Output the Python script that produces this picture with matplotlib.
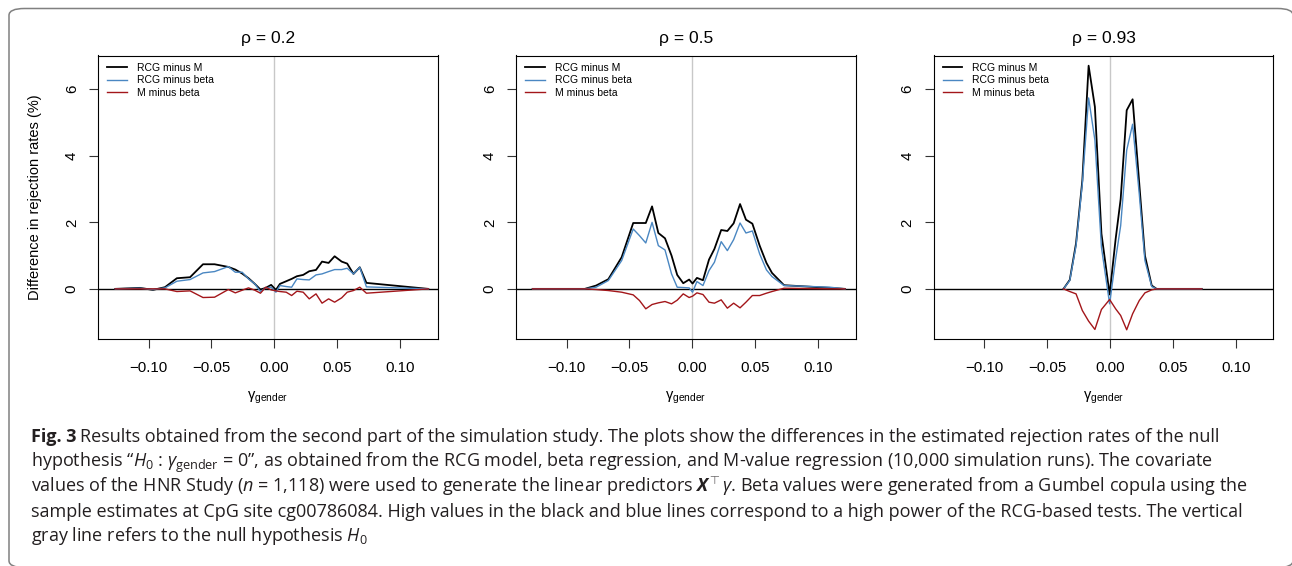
import matplotlib
matplotlib.use("Agg")
import matplotlib.pyplot as plt
from matplotlib.patches import FancyBboxPatch
from matplotlib import font_manager as fm

# ---------------- data ----------------
x_p1 = [-0.1265, -0.107, -0.0965, -0.087, -0.0775, -0.067, -0.0567, -0.0475, -0.0366, -0.031,
        -0.0255, -0.0205, -0.0155, -0.011, -0.0068, -0.0025, 0.0013, 0.0045, 0.0095, 0.0138,
        0.018, 0.023, 0.0278, 0.0332, 0.038, 0.0432, 0.048, 0.0536, 0.058, 0.063, 0.068, 0.0733, 0.1225]
rcg_m_p1 = [0, 0.03, -0.03, 0.05, 0.32, 0.35, 0.74, 0.74, 0.66, 0.58,
            0.46, 0.32, 0.15, -0.02, 0.03, 0.12, -0.03, 0.15, 0.23, 0.30,
            0.38, 0.42, 0.53, 0.57, 0.82, 0.78, 0.98, 0.82, 0.76, 0.45, 0.65, 0.18, 0.0]
rcg_b_p1 = [0, 0.02, -0.02, 0.03, 0.23, 0.28, 0.48, 0.52, 0.67, 0.50,
            0.50, 0.30, 0.15, -0.08, 0.03, 0.05, -0.10, 0.10, 0.07, 0.05,
            0.30, 0.28, 0.27, 0.42, 0.45, 0.52, 0.58, 0.58, 0.62, 0.45, 0.65, 0.06, 0.0]
m_b_p1 = [0, 0.0, 0.0, 0.0, -0.08, -0.06, -0.26, -0.25, -0.02, -0.12,
          -0.04, 0.03, -0.04, -0.13, 0.05, -0.03, -0.06, -0.08, -0.10, -0.20,
          -0.07, -0.10, -0.30, -0.15, -0.43, -0.30, -0.40, -0.27, -0.10, -0.05, 0.05, -0.13, 0.0]

x_p2 = [-0.127, -0.1, -0.0855, -0.0765, -0.0668, -0.0562, -0.047, -0.042, -0.037, -0.032,
        -0.027, -0.0217, -0.0165, -0.012, -0.0072, -0.0025, 0.0002, 0.0037, 0.0085, 0.0133,
        0.0176, 0.023, 0.0279, 0.0329, 0.038, 0.0427, 0.0478, 0.0536, 0.059, 0.0634, 0.073, 0.1095, 0.1215]
rcg_m_p2 = [0, 0, 0, 0.10, 0.29, 0.95, 1.98, 1.98, 1.98, 2.48,
            1.68, 1.52, 1.00, 0.42, 0.17, 0.28, 0.16, 0.33, 0.26, 0.88,
            1.20, 1.77, 1.74, 1.97, 2.55, 2.08, 1.96, 1.30, 0.78, 0.48, 0.11, 0.03, 0.0]
rcg_b_p2 = [0, 0, 0, 0.05, 0.25, 0.85, 1.80, 1.60, 1.38, 2.00,
            1.30, 1.17, 0.45, 0.05, 0.04, 0.03, -0.10, 0.22, 0.10, 0.55,
            0.80, 1.42, 1.15, 1.48, 1.98, 1.68, 1.74, 1.05, 0.57, 0.37, 0.10, 0.05, 0.0]
m_b_p2 = [0, 0, 0, -0.02, -0.05, -0.10, -0.18, -0.35, -0.60, -0.47,
          -0.42, -0.38, -0.45, -0.34, -0.15, -0.26, -0.22, -0.12, -0.17, -0.40,
          -0.43, -0.33, -0.58, -0.43, -0.57, -0.40, -0.20, -0.20, -0.13, -0.08, 0.02, 0.0, 0.0]

x_p3 = [-0.037, -0.032, -0.027, -0.022, -0.017, -0.012, -0.0068, -0.0003, 0.0045, 0.0085,
        0.0133, 0.018, 0.0233, 0.0278, 0.0332, 0.0371, 0.05, 0.073]
rcg_m_p3 = [0, 0.27, 1.37, 3.26, 6.71, 5.47, 1.66, -0.17, 1.50, 2.70,
            5.37, 5.70, 3.16, 1.00, 0.10, 0.0, 0.0, 0.0]
rcg_b_p3 = [0, 0.25, 1.30, 3.16, 5.74, 4.47, 1.25, -0.45, 0.90, 1.90,
            4.17, 4.95, 2.85, 0.85, 0.07, 0.0, 0.0, 0.0]
m_b_p3 = [0, -0.08, -0.15, -0.65, -0.97, -1.22, -0.62, -0.32, -0.60, -0.80,
          -1.23, -0.75, -0.35, -0.12, -0.03, 0.0, 0.0, 0.0]

titles = ["ρ = 0.2", "ρ = 0.5", "ρ = 0.93"]
series_labels = ["RCG minus M", "RCG minus beta", "M minus beta"]
xtick_vals = [-0.10, -0.05, 0.00, 0.05, 0.10]
xtick_labels = ["\u22120.10", "\u22120.05", "0.00", "0.05", "0.10"]
ytick_vals = [0, 2, 4, 6]
ytick_labels = ["0", "2", "4", "6"]
ylabel = "Difference in rejection rates (%)"

panels = [
    (x_p1, rcg_m_p1, rcg_b_p1, m_b_p1),
    (x_p2, rcg_m_p2, rcg_b_p2, m_b_p2),
    (x_p3, rcg_m_p3, rcg_b_p3, m_b_p3),
]

caption_head = "Fig. 3"
caption_lines = [
    r"Results obtained from the second part of the simulation study. The plots show the differences in the estimated rejection rates of the null",
    r"hypothesis “$H_0$ : $\gamma_{\mathrm{gender}}$ = 0”, as obtained from the RCG model, beta regression, and M-value regression (10,000 simulation runs). The covariate",
    r"values of the HNR Study ($n$ = 1,118) were used to generate the linear predictors $\mathbfit{X}^{\top}\gamma$. Beta values were generated from a Gumbel copula using the",
    r"sample estimates at CpG site cg00786084. High values in the black and blue lines correspond to a high power of the RCG-based tests. The vertical",
    r"gray line refers to the null hypothesis $H_0$",
]

# ---------------- style ----------------
names = {f.name for f in fm.fontManager.ttflist}
cap_font = "Liberation Sans Narrow" if "Liberation Sans Narrow" in names else "Open Sans"
plt.rcParams["font.family"] = ["Liberation Sans", "DejaVu Sans"]
plt.rcParams["mathtext.fontset"] = "custom"
plt.rcParams["mathtext.rm"] = cap_font
plt.rcParams["mathtext.it"] = cap_font + ":italic"
plt.rcParams["mathtext.bf"] = cap_font + ":bold"
try:
    plt.rcParams["mathtext.bfit"] = cap_font + ":italic:bold"
except KeyError:
    pass

C_BLACK = "#000000"
C_BLUE = "#4A87C2"
C_RED = "#A3161A"

W, H = 1292, 566
fig = plt.figure(figsize=(W / 100, H / 100), dpi=100)

ax_lefts = [98.3, 516.3, 934.0]
ax_w = 339.4
ax_top, ax_bot = 55.5, 339.3

for i, (xs, a, b, c) in enumerate(panels):
    l = ax_lefts[i]
    ax = fig.add_axes([l / W, 1 - ax_bot / H, ax_w / W, (ax_bot - ax_top) / H])
    ax.axvline(0, color="#C8C8C8", lw=1.0, zorder=1)
    ax.plot(xs, a, color=C_BLACK, lw=1.3, zorder=3, label=series_labels[0])
    ax.plot(xs, b, color=C_BLUE, lw=1.0, zorder=4, label=series_labels[1])
    ax.plot(xs, c, color=C_RED, lw=1.0, zorder=4, label=series_labels[2])
    ax.axhline(0, color="black", lw=1.0, zorder=2)
    ax.set_xlim(-0.14, 0.13)
    ax.set_ylim(-1.516, 7.016)
    ax.set_xticks(xtick_vals)
    ax.set_xticklabels(xtick_labels)
    ax.set_yticks(ytick_vals)
    ax.set_yticklabels(ytick_labels, rotation=90, va="center")
    ax.tick_params(axis="both", direction="out", length=6.5, width=0.8,
                   labelsize=10.8, color="#333333")
    ax.tick_params(axis="x", pad=9.0)
    ax.tick_params(axis="y", pad=7.5)
    for s in ax.spines.values():
        s.set_linewidth(0.8)
    ax.set_title(titles[i], fontsize=12.5, pad=9.0)
    ax.text(0.5, (ax_bot - 400) / (ax_bot - ax_top), "γ$_{\\mathregular{gender}}$",
            transform=ax.transAxes, ha="center", va="baseline", fontsize=10.5)
    ax.legend(loc="upper left", bbox_to_anchor=(8.7 / ax_w, 1 - 7.5 / (ax_bot - ax_top)),
              frameon=False, fontsize=7.5, handlelength=1.9, handletextpad=0.95,
              labelspacing=0.22, borderpad=0, borderaxespad=0)

fig.text(35 / W, 1 - ((ax_top + ax_bot) / 2) / H, ylabel, rotation=90,
         ha="center", va="center", fontsize=10.5)

# caption
cap_kw = dict(ha="left", va="baseline", fontsize=13.0,
              family=[cap_font, "DejaVu Sans"], color="#231F20")
cap_y = [442, 467, 492, 517, 541]
renderer = fig.canvas.get_renderer()
head = fig.text(31 / W, 1 - cap_y[0] / H, caption_head, fontweight="bold", **cap_kw)
hx = head.get_window_extent(renderer).x1
for k, (line, y) in enumerate(zip(caption_lines, cap_y)):
    x0 = (hx + 4.0) if k == 0 else 31
    fig.text(x0 / W, 1 - y / H, line, **cap_kw)

# frame (right and bottom edges fall just outside the image)
frame = FancyBboxPatch((9 / W, 1 - 567.5 / H), (1293 - 9) / W, (567.5 - 8.5) / H,
                       boxstyle="round,pad=0,rounding_size=0.012",
                       transform=fig.transFigure, fill=False,
                       edgecolor="#808080", lw=1.1)
fig.patches.append(frame)

fig.savefig("out.png", dpi=100)
